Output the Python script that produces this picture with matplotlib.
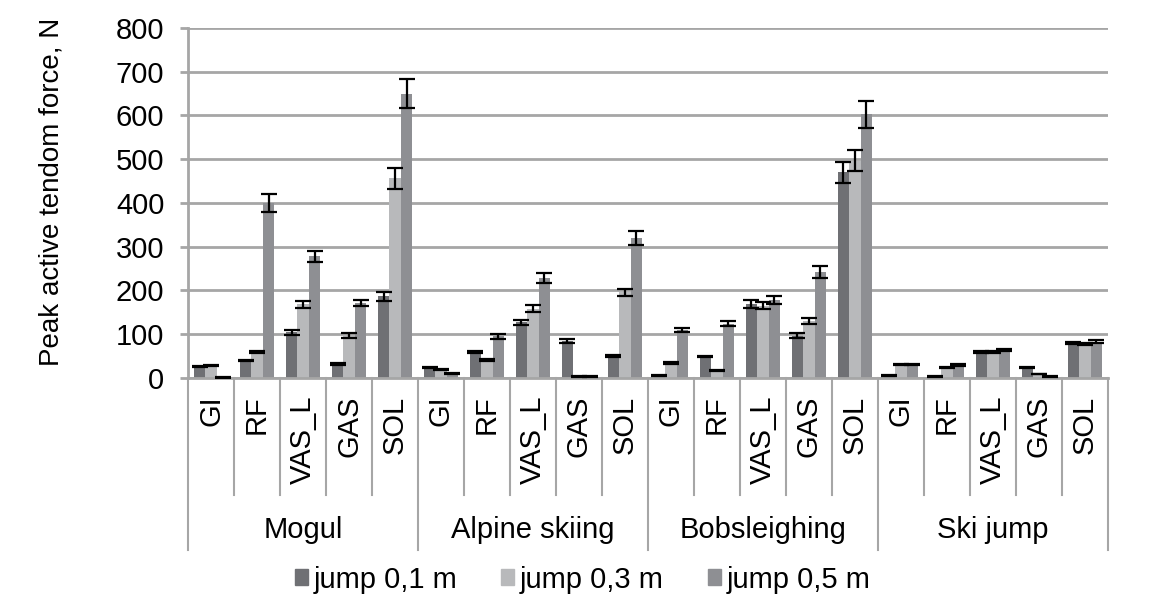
import numpy as np
import matplotlib
matplotlib.use('Agg')
import matplotlib.pyplot as plt
from matplotlib.patches import Patch

plt.rcParams['font.family'] = ['Liberation Sans', 'DejaVu Sans']

groups = ['Mogul', 'Alpine skiing', 'Bobsleighing', 'Ski jump']
muscles = ['GI', 'RF', 'VAS_L', 'GAS', 'SOL']
series = ['jump 0,1 m', 'jump 0,3 m', 'jump 0,5 m']
colors = ['#6f7074', '#b8b9bb', '#8e8f93']

# values per group, order GI, RF, VAS_L, GAS, SOL
jump01 = [27, 40, 104, 32, 187,
          24, 59, 127, 84, 50,
          5, 49, 170, 97, 470,
          5, 4, 59, 24, 80]
jump03 = [28, 59, 168, 97, 457,
          19, 41, 158, 4, 196,
          34, 18, 165, 130, 497,
          30, 24, 59, 9, 78]
jump05 = [2, 400, 278, 171, 650,
          11, 95, 229, 3, 320,
          109, 124, 179, 242, 603,
          30, 30, 64, 4, 83]

err01 = [1, 2, 5, 2, 10,
         1, 3, 6, 5, 3,
         1, 2, 9, 5, 24,
         1, 1, 2, 2, 3]
err03 = [1, 2, 7, 5, 24,
         1, 2, 8, 1, 8,
         2, 1, 8, 6, 25,
         1, 1, 2, 1, 3]
err05 = [1, 20, 13, 7, 33,
         1, 5, 11, 1, 17,
         5, 6, 9, 13, 31,
         1, 2, 2, 1, 3]

values = [jump01, jump03, jump05]
errors = [err01, err03, err05]

FS = 21

fig = plt.figure(figsize=(11.65, 6.07), dpi=100)
ax = fig.add_axes([0.1614, 0.3773, 0.951 - 0.1614, 0.9539 - 0.3773])

n = len(groups) * len(muscles)
x = np.arange(n)
w = 0.25
for i in range(3):
    ax.bar(x + (i - 1) * w, values[i], w, color=colors[i], zorder=2,
           yerr=errors[i], capsize=5.5,
           error_kw=dict(ecolor='black', elinewidth=1.6, capthick=1.6, zorder=3))

gc = '#a6a6a6'
ax.set_xlim(-0.5, n - 0.5)
ax.set_ylim(0, 800)
ax.set_yticks(range(0, 801, 100))
ax.tick_params(axis='y', labelsize=FS, length=6, width=2, color=gc, pad=11)
ax.set_xticks([])
ax.grid(axis='y', color=gc, linewidth=2, zorder=0)
for s in ['top', 'right']:
    ax.spines[s].set_visible(False)
for s in ['left', 'bottom']:
    ax.spines[s].set_color(gc)
    ax.spines[s].set_linewidth(2)

fig.text(52 / 1165, 0.684, 'Peak active tendom force, N', rotation=90,
         ha='center', va='center', fontsize=20)

trans = ax.get_xaxis_transform()
for k in range(n + 1):
    xb = k - 0.5
    bottom = -0.491 if k % len(muscles) == 0 else -0.334
    ax.plot([xb, xb], [0, bottom], color=gc, lw=1.5, transform=trans, clip_on=False)

for k in range(n):
    ax.text(k, -0.05, muscles[k % len(muscles)], rotation=90, ha='center', va='top',
            fontsize=FS, transform=trans)

for g, name in enumerate(groups):
    xc = g * len(muscles) + (len(muscles) - 1) / 2
    ax.text(xc, -0.434, name, ha='center', va='center', fontsize=FS, transform=trans)

handles = [Patch(color=c, label=l) for c, l in zip(colors, series)]
fig.legend(handles=handles, loc='center', bbox_to_anchor=(0.5, 0.045), ncol=3,
           frameon=False, fontsize=FS, handlelength=0.45, handleheight=0.45,
           handletextpad=0.2, columnspacing=1.5)

fig.savefig('out.png', dpi=100)
